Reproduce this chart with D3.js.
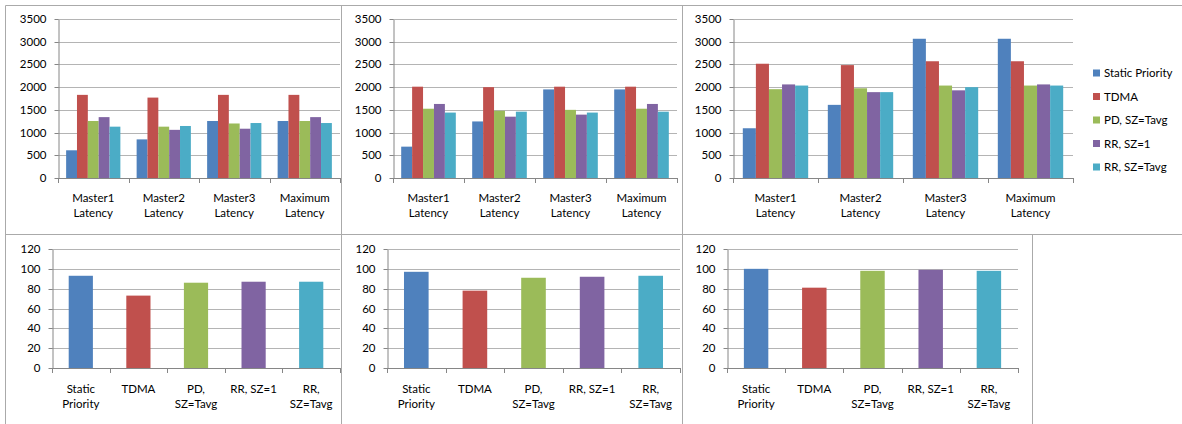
<!DOCTYPE html>
<html>
<head>
<meta charset="utf-8">
<script src="https://cdn.jsdelivr.net/npm/d3@7"></script>
<style>
  body { margin: 0; background: #fff; }
  svg text { font-family: Lato, "Open Sans", sans-serif; font-size: 11.5px; fill: #000; }
</style>
</head>
<body>
<svg id="chart" width="1182" height="424"></svg>
<script>
// Scheduling schemes (series) and their colours
const schemes = ["Static Priority", "TDMA", "PD, SZ=Tavg", "RR, SZ=1", "RR, SZ=Tavg"];
const schemeColors = ["#4F81BD", "#C0504D", "#9BBB59", "#8064A2", "#4BACC6"];

// Category labels (one entry per line)
const latencyGroups = [["Master1", "Latency"], ["Master2", "Latency"], ["Master3", "Latency"], ["Maximum", "Latency"]];
const schemeAxisLabels = [["Static", "Priority"], ["TDMA"], ["PD,", "SZ=Tavg"], ["RR, SZ=1"], ["RR,", "SZ=Tavg"]];

// Tick values
const latencyTicks = [0, 500, 1000, 1500, 2000, 2500, 3000, 3500];
const utilTicks = [0, 20, 40, 60, 80, 100, 120];

// Latency per group; each row lists the schemes in order
const latencyA = [
  [610, 1830, 1255, 1340, 1130],
  [850, 1770, 1130, 1060, 1145],
  [1255, 1830, 1200, 1085, 1210],
  [1255, 1830, 1255, 1340, 1210]
];
const latencyB = [
  [690, 2010, 1525, 1630, 1440],
  [1245, 2000, 1480, 1350, 1460],
  [1950, 2010, 1500, 1395, 1440],
  [1950, 2010, 1525, 1630, 1460]
];
const latencyC = [
  [1095, 2515, 1955, 2060, 2035],
  [1610, 2485, 1975, 1890, 1890],
  [3065, 2570, 2035, 1930, 2000],
  [3065, 2570, 2035, 2060, 2035]
];

// Utilisation per scheme
const utilA = [93, 73, 86, 87, 87];
const utilB = [97, 78, 91, 92, 93];
const utilC = [100, 81, 98, 99, 98];

const svg = d3.select("#chart");
const AXIS = "#868686", GRID = "#b4b4b4", FRAME = "#aaaaaa";

// Frames around the six panels
const frame = svg.append("g").attr("stroke", FRAME).attr("stroke-width", 1).attr("fill", "none");
[[5.5, 5.5, 1182, 5.5], [5.5, 234.5, 1182, 234.5],
 [5.5, 5.5, 5.5, 424], [341.5, 5.5, 341.5, 424], [682.5, 5.5, 682.5, 424],
 [1032.5, 234.5, 1032.5, 424]].forEach(([a, b, c, d]) =>
  frame.append("line").attr("x1", a).attr("y1", b).attr("x2", c).attr("y2", d));

function valueAxis(g, y, ticks, x0, x1) {
  // horizontal gridlines
  g.append("g").selectAll("line").data(ticks.filter(t => t > 0)).join("line")
    .attr("x1", x0).attr("x2", x1)
    .attr("y1", d => Math.round(y(d)) + 0.5).attr("y2", d => Math.round(y(d)) + 0.5)
    .attr("stroke", GRID).attr("stroke-width", 1);
  const ax = g.append("g").attr("transform", `translate(${x0 + 0.5},0.5)`)
    .call(d3.axisLeft(y).tickValues(ticks).tickSize(4).tickPadding(8).tickSizeOuter(0)
      .tickFormat(d3.format("d")));
  ax.selectAll("line, path").attr("stroke", AXIS);
  ax.selectAll("text").style("font-family", "Lato, sans-serif").style("font-size", "11.5px").attr("fill", "#000");
  ax.selectAll(".tick").attr("transform", d => `translate(0,${Math.round(y(d))})`);
}

function categoryAxis(g, x, labels, y0, x0, x1, firstBaseline) {
  // baseline and boundary ticks
  g.append("line").attr("x1", x0).attr("x2", x1 + 0.5)
    .attr("y1", y0 + 0.5).attr("y2", y0 + 0.5).attr("stroke", AXIS);
  const bounds = d3.range(labels.length + 1).map(i => x0 + i * x.step());
  g.append("g").selectAll("line").data(bounds).join("line")
    .attr("x1", d => Math.round(d) + 0.5).attr("x2", d => Math.round(d) + 0.5)
    .attr("y1", y0).attr("y2", y0 + 5).attr("stroke", AXIS);
  const lab = g.append("g").selectAll("text").data(labels).join("text")
    .attr("text-anchor", "middle")
    .attr("transform", (d, i) => `translate(${x0 + (i + 0.5) * x.step()},${firstBaseline})`);
  lab.selectAll("tspan").data(d => d).join("tspan")
    .attr("x", 0).attr("dy", (d, i) => i === 0 ? 0 : 15).text(d => d);
}

function latencyChart(data, x0, x1, yTop, yZero) {
  const g = svg.append("g");
  const y = d3.scaleLinear().domain([0, 3500]).range([yZero, yTop]);
  const x = d3.scaleBand().domain(d3.range(latencyGroups.length)).range([x0, x1]).padding(0);
  const w = x.bandwidth();
  const inner = d3.scaleBand().domain(schemes).range([w * 0.75 / 6.5, w - w * 0.75 / 6.5]).padding(0);
  valueAxis(g, y, latencyTicks, x0, x1);
  const groups = g.append("g").selectAll("g").data(data).join("g")
    .attr("transform", (d, i) => `translate(${x(i)},0)`);
  groups.selectAll("rect").data(row => row.map((v, k) => ({ v, k }))).join("rect")
    .attr("x", d => inner(schemes[d.k]))
    .attr("width", inner.bandwidth())
    .attr("y", d => y(d.v))
    .attr("height", d => yZero - y(d.v))
    .attr("fill", d => schemeColors[d.k]);
  categoryAxis(g, x, latencyGroups, yZero, x0, x1, 202);
}

function utilChart(data, x0, x1, yTop, yZero) {
  const g = svg.append("g");
  const y = d3.scaleLinear().domain([0, 120]).range([yZero, yTop]);
  const x = d3.scaleBand().domain(schemes).range([x0, x1]).paddingInner(0.58).paddingOuter(0.29);
  valueAxis(g, y, utilTicks, x0, x1);
  g.append("g").selectAll("rect").data(data).join("rect")
    .attr("x", (d, i) => x(schemes[i]))
    .attr("width", x.bandwidth())
    .attr("y", d => y(d))
    .attr("height", d => yZero - y(d))
    .attr("fill", (d, i) => schemeColors[i]);
  const band = d3.scaleBand().domain(schemes).range([x0, x1]).padding(0);
  categoryAxis(g, band, schemeAxisLabels, yZero, x0, x1, 393);
}

latencyChart(latencyA, 58, 340, 19, 178);
latencyChart(latencyB, 393, 677, 19, 178);
latencyChart(latencyC, 733, 1073, 19, 178);
utilChart(utilA, 52, 340, 249, 368);
utilChart(utilB, 387, 680, 249, 368);
utilChart(utilC, 727, 1018, 249, 368);

// Legend
const legend = svg.append("g").selectAll("g").data(schemes).join("g")
  .attr("transform", (d, i) => `translate(1093,${73 + i * 23.5})`);
legend.append("rect").attr("x", 0).attr("y", -3.5).attr("width", 7).attr("height", 7)
  .attr("fill", (d, i) => schemeColors[i]);
legend.append("text").attr("x", 11).attr("dy", "0.35em").text(d => d);
</script>
</body>
</html>
